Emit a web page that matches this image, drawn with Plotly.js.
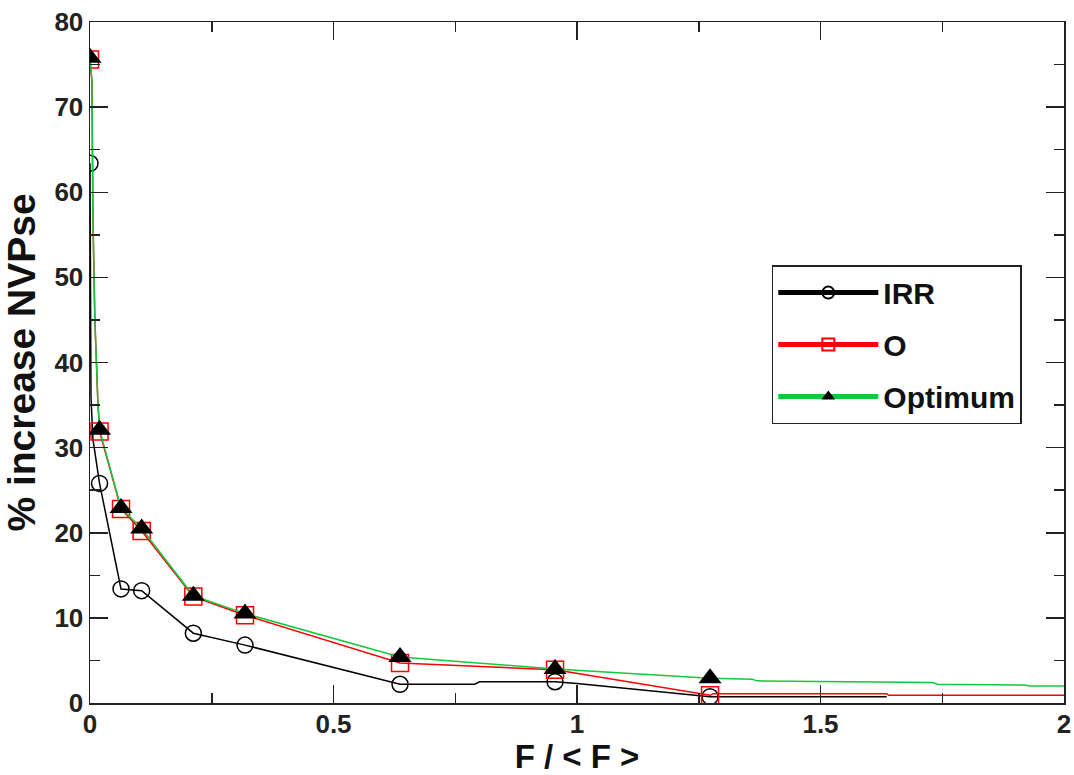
<!DOCTYPE html>
<html>
<head>
<meta charset="utf-8">
<script src="https://cdn.plot.ly/plotly-3.0.1.min.js"></script>
<style>
  html, body { margin: 0; padding: 0; background: #fff; }
  #chart { width: 1074px; height: 775px; }
</style>
</head>
<body>
<div id="chart"></div>
<script>
// Marker positions (shared x) and series values at those markers
const markX = [0, 0.0196, 0.0637, 0.1061, 0.2122, 0.3183, 0.6366, 0.9549, 1.2732];
const irrY  = [63.4, 25.8, 13.4, 13.2, 8.2, 6.8, 2.2, 2.5, 0.74];
const oY    = [75.6, 31.9, 22.8, 20.2, 12.5, 10.3, 4.7, 3.9, 0.9];
const optY  = [75.8, 32.1, 22.9, 20.5, 12.6, 10.5, 5.4, 4.0, 2.9];

// Extra points of the continuous curves (between / beyond the markers)
const irrCurveX = [0.001, 0.002, 0.006, 0.79, 0.80, 1.0, 1.22, 1.636];
const irrCurveY = [50, 36, 31, 2.2, 2.5, 2.3, 1.1, 0.74];
const oCurveX   = [0.004, 0.006, 0.01, 0.016, 1.28, 1.636, 1.64, 2];
const oCurveY   = [73, 57, 45, 35.6, 1.1, 1.1, 0.9, 0.9];
const optCurveX = [0.004, 0.006, 0.01, 0.016, 1.36, 1.37, 1.73, 1.74, 1.92, 1.93, 2];
const optCurveY = [73, 57, 45, 35.6, 2.8, 2.6, 2.4, 2.2, 2.1, 2.0, 2.0];

const seriesNames = ['IRR', 'O', 'Optimum'];
const xTickVals = [0, 0.5, 1, 1.5, 2];
const xTickText = ['0', '0.5', '1', '1.5', '2'];
const yTickVals = [0, 10, 20, 30, 40, 50, 60, 70, 80];

function merge(mx, my, cx, cy, msize) {
  const pts = [];
  mx.forEach((x, i) => pts.push({x: x, y: my[i], s: msize}));
  cx.forEach((x, i) => pts.push({x: x, y: cy[i], s: 0}));
  pts.sort((a, b) => a.x - b.x);
  return {x: pts.map(p => p.x), y: pts.map(p => p.y), s: pts.map(p => p.s),
          lw: pts.map(p => p.s > 0 ? 1.5 : 0)};
}

const FONT = '"Liberation Sans", Arial, Helvetica, sans-serif';
const GREEN = 'rgb(20,200,60)';

const a = merge(markX, irrY, irrCurveX, irrCurveY, 16);
const b = merge(markX, oY, oCurveX, oCurveY, 17);
const c = merge(markX, optY, optCurveX, optCurveY, 20);

const traces = [
  {x: a.x, y: a.y, name: seriesNames[0], mode: 'lines+markers', legendgroup: 'g1',
   line: {color: 'black', width: 1.5},
   marker: {symbol: 'circle-open', size: a.s, color: 'black', opacity: 1, line: {width: a.lw, color: 'black'}}},
  {x: b.x, y: b.y, name: seriesNames[1], mode: 'lines+markers', legendgroup: 'g2',
   line: {color: 'rgb(255,0,0)', width: 1.5},
   marker: {symbol: 'square-open', size: b.s, color: 'rgb(255,0,0)', opacity: 1, line: {width: b.lw, color: 'rgb(255,0,0)'}}},
  {x: c.x, y: c.y, name: seriesNames[2], mode: 'lines+markers', legendgroup: 'g3',
   line: {color: GREEN, width: 1.5},
   marker: {symbol: 'triangle-up', size: c.s, color: 'black', opacity: 1, line: {width: 0, color: 'black'}}}
];

const axisCommon = {
  showgrid: false, zeroline: false,
  showline: true, linecolor: '#222', linewidth: 1.5, mirror: 'allticks',
  ticks: 'inside', ticklen: 18, tickwidth: 1.5, tickcolor: '#222',
  tickfont: {family: FONT, size: 26, color: '#222', weight: 'bold'}
};

const layout = {
  width: 1074, height: 775,
  margin: {l: 90, r: 10, t: 22, b: 72},
  paper_bgcolor: 'white', plot_bgcolor: 'white',
  showlegend: true,
  xaxis: Object.assign({}, axisCommon, {
    range: [0, 2], tickvals: xTickVals, ticktext: xTickText,
    ticklabelstandoff: -3,
    minor: {dtick: 0.25, ticks: 'inside', ticklen: 10, tickwidth: 1.5, tickcolor: '#222'},
    title: {text: 'F / < F >', standoff: 2, font: {family: FONT, size: 33, color: '#111', weight: 'bold'}}
  }),
  yaxis: Object.assign({}, axisCommon, {
    range: [0, 80], tickvals: yTickVals,
    minor: {dtick: 5, ticks: 'inside', ticklen: 10, tickwidth: 1.5, tickcolor: '#222'},
    title: {text: '% increase NVPse', standoff: 6, font: {family: FONT, size: 39, color: '#111', weight: 'bold'}}
  }),
  legend: {
    x: 0.700, y: 0.643, xanchor: 'left', yanchor: 'top',
    bgcolor: 'white', bordercolor: '#222', borderwidth: 1.5,
    font: {family: FONT, size: 30, color: '#111', weight: 'bold'},
    itemsizing: 'constant', itemwidth: 100, tracegroupgap: 10
  }
};

Plotly.newPlot('chart', traces, layout, {displayModeBar: false, staticPlot: true});
</script>
</body>
</html>
